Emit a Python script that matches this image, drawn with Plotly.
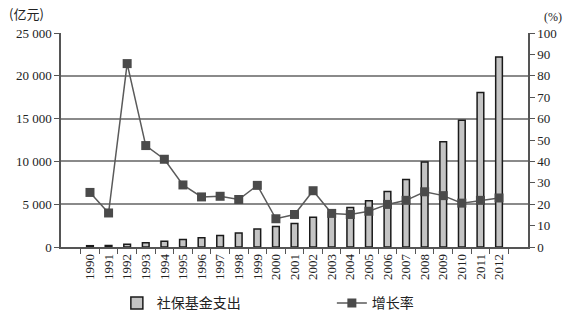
import plotly.graph_objects as go

years = [str(y) for y in range(1990, 2013)]
spending = [151.9, 176.1, 327.1, 482.2, 680.0, 877.1, 1082.4, 1339.2, 1636.9,
            2108.1, 2385.6, 2748.0, 3471.5, 4016.4, 4627.4, 5400.8, 6477.4,
            7887.8, 9925.1, 12302.6, 14818.9, 18055.0, 22182.0]
growth = [25.5, 15.9, 85.7, 47.4, 41.0, 29.0, 23.4, 23.7, 22.2, 28.8, 13.2,
          15.2, 26.3, 15.7, 15.2, 16.7, 19.9, 21.8, 25.8, 24.0, 20.5, 21.8, 22.9]

font_main = "Liberation Serif, Noto Sans CJK SC, serif"

fig = go.Figure()
fig.add_trace(go.Bar(
    x=years, y=spending, name="社保基金支出", width=0.36,
    marker=dict(color="#c4c4c4", line=dict(color="#1a1a1a", width=1.5)),
))
fig.add_trace(go.Scatter(
    x=years, y=growth, name="增长率", yaxis="y2", mode="lines+markers",
    line=dict(color="#5a5a5a", width=1.5),
    marker=dict(symbol="square", size=9, color="#4a4a4a"),
))

fig.update_layout(
    width=566, height=322,
    margin=dict(l=61, r=38, t=33, b=75, autoexpand=False),
    paper_bgcolor="white", plot_bgcolor="white",
    separators=". ",
    font=dict(family=font_main, size=13, color="#222"),
    showlegend=True,
    legend=dict(orientation="h", x=0.58, xanchor="center",
                yref="container", y=0.058, yanchor="middle",
                font=dict(size=14, family="Noto Sans CJK SC"), entrywidth=170,
                itemwidth=30, traceorder="normal"),
    bargap=0.6,
    xaxis=dict(
        type="category", showline=True, linecolor="#555", linewidth=1.5,
        ticks="outside", tickson="boundaries", ticklen=5, tickcolor="#555",
        tickangle=-90, tickfont=dict(size=13), showgrid=False, automargin=False,
    ),
    yaxis=dict(
        range=[0, 25000], dtick=5000, tickformat=",d",
        showline=True, linecolor="#555", linewidth=1.5,
        ticks="outside", ticklen=5, tickcolor="#555", automargin=False,
        showgrid=True, gridcolor="#8a8a8a", gridwidth=1.5, zeroline=False,
    ),
    yaxis2=dict(
        range=[0, 100], dtick=10, overlaying="y", side="right",
        showline=True, linecolor="#555", linewidth=1.5, automargin=False,
        ticks="outside", ticklen=5, tickcolor="#555",
        showgrid=False, zeroline=False,
    ),
    annotations=[
        dict(text="(亿元)", xref="paper", yref="paper", x=-0.115, y=1.0,
             xanchor="left", yanchor="bottom", yshift=8, showarrow=False,
             font=dict(size=13, family="Noto Sans CJK SC")),
        dict(text="(%)", xref="paper", yref="paper", x=1.03, y=1.0,
             xanchor="left", yanchor="bottom", yshift=7, showarrow=False,
             font=dict(size=12)),
    ],
)

fig.write_html("out.html")
